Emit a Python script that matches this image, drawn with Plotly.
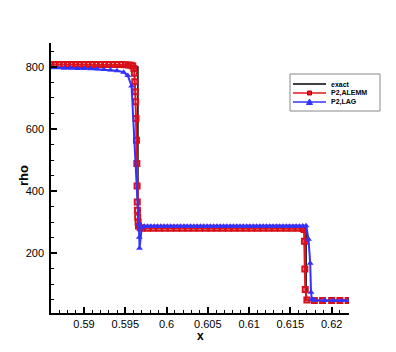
import plotly.graph_objects as go

# exact solution
exact_x = [0.5860, 0.59653, 0.59653, 0.6169, 0.6169, 0.6222]
exact_rho = [800, 800, 280, 280, 48, 48]

# P2,ALEMM
alemm_x = [0.5860, 0.5865, 0.5870, 0.5875, 0.5880, 0.5885, 0.5890, 0.5895, 0.5900, 0.5905,
           0.5910, 0.5915, 0.5920, 0.5925, 0.5930, 0.5935, 0.5940, 0.5945, 0.5950, 0.5954,
           0.5957, 0.5959, 0.59605, 0.5961, 0.59615, 0.5962,
           0.59625, 0.5963, 0.59635, 0.5964, 0.59643, 0.59645, 0.59647, 0.5965, 0.59655, 0.5966,
           0.5968, 0.5970, 0.5977, 0.5984, 0.5991, 0.5998, 0.6005, 0.6012, 0.6019, 0.6026,
           0.6033, 0.6040, 0.6047, 0.6054, 0.6061, 0.6068, 0.6075, 0.6082, 0.6089, 0.6096,
           0.6103, 0.6110, 0.6117, 0.6124, 0.6131, 0.6138, 0.6145, 0.6152, 0.6159, 0.6165,
           0.61665, 0.6167, 0.61675, 0.6168, 0.6170, 0.6179, 0.6189, 0.6200, 0.6210, 0.6220]
alemm_rho = [808, 808, 808, 808, 808, 808, 808, 808, 808, 808,
             808, 808, 808, 808, 808, 808, 808, 808, 807, 806,
             805, 803, 795, 780, 752, 720,
             688, 634, 564, 489, 417, 365, 339, 317, 300, 288,
             282, 281, 281, 281, 281, 281, 281, 281, 281, 281,
             281, 281, 281, 281, 281, 281, 281, 281, 281, 281,
             281, 281, 281, 281, 281, 281, 281, 281, 281, 280,
             277, 239, 150, 84, 50, 48, 48, 48, 48, 48]

# P2,LAG
lag_x = [0.5860, 0.5868, 0.5876, 0.5884, 0.5892, 0.5900, 0.5908, 0.5916, 0.5924, 0.5932,
         0.5940, 0.5948, 0.5953, 0.59576, 0.59668, 0.59670, 0.59672, 0.5970, 0.5973, 0.5977,
         0.5981, 0.5985, 0.5989, 0.5993, 0.5997, 0.6001, 0.6005, 0.6009, 0.6013, 0.6017,
         0.6021, 0.6025, 0.6029, 0.6033, 0.6037, 0.6041, 0.6045, 0.6049, 0.6053, 0.6057,
         0.6061, 0.6065, 0.6069, 0.6073, 0.6077, 0.6081, 0.6085, 0.6089, 0.6093, 0.6097,
         0.6101, 0.6105, 0.6109, 0.6113, 0.6117, 0.6121, 0.6125, 0.6129, 0.6133, 0.6137,
         0.6141, 0.6145, 0.6149, 0.6153, 0.6157, 0.6161, 0.6165, 0.6169, 0.6172, 0.6174,
         0.6175, 0.6176, 0.6179, 0.6191, 0.6202, 0.6212, 0.6221]
lag_rho = [797, 797, 796, 796, 795, 795, 794, 793, 792, 790,
           788, 783, 772, 739, 295, 252, 216, 284, 287, 287,
           287, 287, 287, 287, 287, 287, 287, 287, 287, 287,
           287, 287, 287, 287, 287, 287, 287, 287, 287, 287,
           287, 287, 287, 287, 287, 287, 287, 287, 287, 287,
           287, 287, 287, 287, 287, 287, 287, 287, 287, 287,
           287, 287, 287, 287, 287, 287, 288, 289, 245, 168,
           75, 52, 49, 48, 48, 48, 48]

# page body has an 8px margin, so the figure is sized/offset to land the
# axes at the same window pixels as the reference
OFF = 8
W, H = 380, 336
L, R, T, B = 43, 39, 35, 31
pw, ph = W - L - R, H - T - B


def px(xp):
    return (xp - OFF - L) / pw


def py(yp):
    return (H - B - (yp - OFF)) / ph


FONT = "Liberation Sans, Arial, sans-serif"

fig = go.Figure()
fig.add_trace(go.Scatter(x=exact_x, y=exact_rho, mode="lines", name="exact",
                         line=dict(color="black", width=1.5)))
fig.add_trace(go.Scatter(x=alemm_x, y=alemm_rho, mode="lines+markers", name="P2,ALEMM",
                         line=dict(color="#e8141c", width=2),
                         marker=dict(symbol="square-open", size=5, color="#d8101a",
                                     line=dict(width=2))))
fig.add_trace(go.Scatter(x=lag_x, y=lag_rho, mode="lines+markers", name="P2,LAG",
                         line=dict(color="#3333ff", width=2),
                         marker=dict(symbol="triangle-up", size=6, color="#3333ff")))

axis_common = dict(showline=True, linecolor="black", linewidth=1.5, mirror=False,
                   ticks="inside", ticklen=6, tickwidth=1.5, tickcolor="black",
                   showgrid=False, zeroline=False, automargin=False,
                   tickfont=dict(family=FONT, size=11, color="black"))

fig.update_xaxes(range=[0.586, 0.6221], dtick=0.005, tick0=0.59,
                 minor=dict(dtick=0.001, ticks="inside", ticklen=3, tickcolor="black", tickwidth=1),
                 ticklabelstandoff=0,
                 **axis_common)
fig.update_yaxes(range=[8, 877], dtick=200, tick0=0,
                 minor=dict(dtick=50, ticks="inside", ticklen=3, tickcolor="black", tickwidth=1),
                 ticklabelstandoff=3,
                 **axis_common)

# legend box drawn in pixel-mapped paper coords
shapes = [dict(type="rect", xref="paper", yref="paper", x0=px(290), x1=px(380), y0=py(111), y1=py(74),
               line=dict(color="#888888", width=1), fillcolor="white", layer="above")]
annos = [
    dict(xref="paper", yref="paper", x=px(200), y=py(332), text="<b>x</b>", showarrow=False,
         xanchor="center", yanchor="top", yshift=5, font=dict(family=FONT, size=12, color="black")),
    dict(xref="paper", yref="paper", x=px(23), y=py(176), text="<b>rho</b>", showarrow=False,
         textangle=-90, xanchor="center", yanchor="middle", font=dict(family=FONT, size=13, color="black")),
]
leg = [("exact", "black", 84, None), ("P2,ALEMM", "#e8141c", 93, "sq"), ("P2,LAG", "#3333ff", 102, "tri")]
for name, col, yy, mk in leg:
    shapes.append(dict(type="line", xref="paper", yref="paper", x0=px(293), x1=px(326), y0=py(yy), y1=py(yy),
                       line=dict(color=col, width=1.5), layer="above"))
    if mk == "sq":
        shapes.append(dict(type="rect", xref="paper", yref="paper", x0=px(307.5), x1=px(311.5),
                           y0=py(yy + 2), y1=py(yy - 2), line=dict(color="#b00010", width=1),
                           fillcolor=col, layer="above"))
    elif mk == "tri":
        shapes.append(dict(type="path", xref="paper", yref="paper",
                           path="M %f %f L %f %f L %f %f Z" % (px(306.5), py(yy + 2.5), px(312.5), py(yy + 2.5),
                                                             px(309.5), py(yy - 3)),
                           line=dict(color=col, width=1), fillcolor=col, layer="above"))
    annos.append(dict(xref="paper", yref="paper", x=px(329), y=py(yy), text="<b>%s</b>" % name,
                      showarrow=False, xanchor="left", yanchor="middle",
                      font=dict(family=FONT, size=7, color="black")))

fig.update_layout(width=W, height=H, margin=dict(l=L, r=R, t=T, b=B),
                  paper_bgcolor="white", plot_bgcolor="white", showlegend=False,
                  shapes=shapes, annotations=annos)

fig.write_html("out.html")
